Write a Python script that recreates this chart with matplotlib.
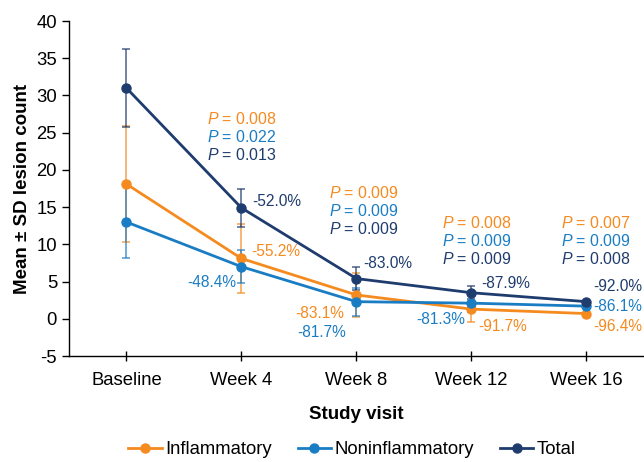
import matplotlib
matplotlib.use("Agg")
import matplotlib.pyplot as plt
import numpy as np

plt.rcParams['font.family'] = ['Liberation Sans', 'DejaVu Sans']
plt.rcParams['mathtext.fontset'] = 'custom'
plt.rcParams['mathtext.rm'] = 'Liberation Sans'
plt.rcParams['mathtext.it'] = 'Liberation Sans:italic'
plt.rcParams['axes.unicode_minus'] = False

visits = ['Baseline', 'Week 4', 'Week 8', 'Week 12', 'Week 16']

inflam_mean = [18.1, 8.1, 3.2, 1.3, 0.7]
inflam_sd = [7.8, 4.7, 3.0, 1.7, 0.0]
noninf_mean = [13.0, 7.0, 2.3, 2.1, 1.7]
noninf_sd = [4.8, 2.2, 1.9, 1.2, 0.0]
total_mean = [31.0, 14.9, 5.4, 3.5, 2.3]
total_sd = [5.2, 2.6, 1.5, 0.9, 0.0]

inflam_pct = ['', '-55.2%', '-83.1%', '-91.7%', '-96.4%']
noninf_pct = ['', '-48.4%', '-81.7%', '-81.3%', '-86.1%']
total_pct = ['', '-52.0%', '-83.0%', '-87.9%', '-92.0%']

p_inflam = ['0.008', '0.009', '0.008', '0.007']
p_noninf = ['0.022', '0.009', '0.009', '0.009']
p_total = ['0.013', '0.009', '0.009', '0.008']

c_inf = '#F58A1F'
c_non = '#1A7DC4'
c_tot = '#1F3C6E'

fig = plt.figure(figsize=(6.44, 4.62), dpi=100)
ax = fig.add_axes([0.107, 0.2294, 0.893, 0.7251])
x = np.arange(len(visits))

series = [
    ('Inflammatory', inflam_mean, inflam_sd, c_inf, inflam_pct),
    ('Noninflammatory', noninf_mean, noninf_sd, c_non, noninf_pct),
    ('Total', total_mean, total_sd, c_tot, total_pct),
]
for name, m, sd, c, _ in series:
    ax.errorbar(x, m, yerr=sd, fmt='none', ecolor=c, elinewidth=1.1,
                capsize=3, capthick=1.1, alpha=0.8, zorder=2)
for name, m, sd, c, _ in series:
    ax.plot(x, m, '-o', color=c, lw=2, ms=6.5, label=name, zorder=3)

# percent-change labels: (dx, dy, ha) in pixels from the point
pct_offsets = {
    'Inflammatory': [None, (10, 7, 'left'), (-12, -19, 'right'), (7, -17, 'left'), (7, -13, 'left')],
    'Noninflammatory': [None, (-5, -16, 'right'), (-10, -31, 'right'), (-6, -16, 'right'), (7, 0, 'left')],
    'Total': [None, (11, 6, 'left'), (7, 15, 'left'), (10, 9, 'left'), (7, 15, 'left')],
}
for name, m, sd, c, pct in series:
    for i in range(1, len(visits)):
        dx, dy, ha = pct_offsets[name][i]
        ax.annotate(pct[i], (x[i], m[i]), xytext=(dx, dy), textcoords='offset pixels',
                    ha=ha, va='center', color=c, fontsize=11.2, annotation_clip=False)

# P value blocks
p_top = [26.9, 16.9, 12.9, 12.9]
p_dx = [-34, -27, -29, -25]
for k in range(4):
    for j, (vals, c) in enumerate([(p_inflam, c_inf), (p_noninf, c_non), (p_total, c_tot)]):
        ax.annotate(r'$\it{P}$ = ' + vals[k], (x[k + 1], p_top[k] - 2.42 * j),
                    xytext=(p_dx[k], 0), textcoords='offset pixels',
                    ha='left', va='center', color=c, fontsize=11.4)

ax.set_xlim(-0.5, 4.5)
ax.set_ylim(-5, 40)
ax.set_yticks(np.arange(-5, 41, 5))
ax.set_xticks(x)
ax.set_xticklabels(visits)
ax.tick_params(axis='x', direction='inout', length=7, width=1, labelsize=13.3, pad=8)
ax.tick_params(axis='y', direction='out', length=5, width=1, labelsize=13.3)
for s in ['top', 'right']:
    ax.spines[s].set_visible(False)
for s in ['left', 'bottom']:
    ax.spines[s].set_linewidth(1)
ax.set_ylabel('Mean ± SD lesion count', fontsize=13.5, fontweight='bold', labelpad=4)
ax.set_xlabel('Study visit', fontsize=13.5, fontweight='bold', labelpad=12)

fig.legend(loc='lower center', bbox_to_anchor=(0.547, -0.028), ncol=3, frameon=False,
           fontsize=13.3, handlelength=1.8, columnspacing=1.4, handletextpad=0.2)

fig.savefig('out.png', dpi=100)
